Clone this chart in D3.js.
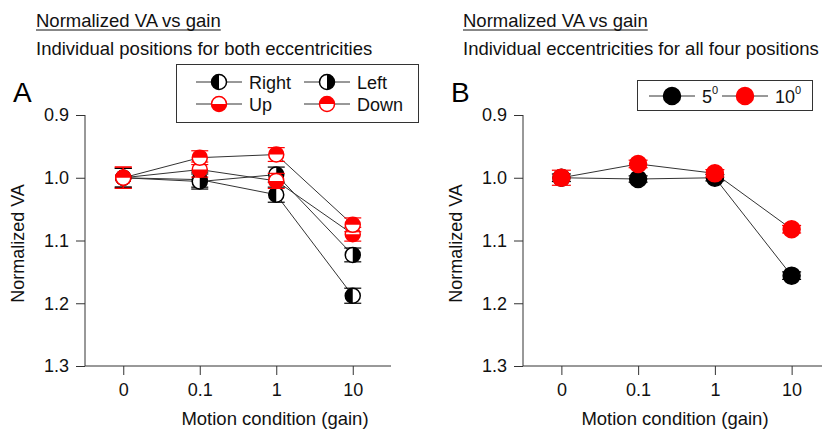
<!DOCTYPE html>
<html>
<head>
<meta charset="utf-8">
<script src="https://cdn.jsdelivr.net/npm/d3@7"></script>
<style>
  body { margin: 0; background: #fff; }
  svg { font-family: "Liberation Sans", Arial, Helvetica, sans-serif; }
</style>
</head>
<body>
<svg id="chart" width="822" height="430"></svg>
<script>
/* data */
const gains = ["0", "0.1", "1", "10"];
const yTicks = [0.9, 1.0, 1.1, 1.2, 1.3];

const rightVals = [1.0, 1.003, 1.027, 1.188];
const rightErr  = [0.015, 0.012, 0.012, 0.012];
const leftVals  = [1.0, 1.006, 0.995, 1.123];
const leftErr   = [0.015, 0.012, 0.012, 0.011];
const upVals    = [1.0, 0.987, 1.005, 1.09];
const upErr     = [0.017, 0.012, 0.012, 0.011];
const downVals  = [1.0, 0.968, 0.963, 1.075];
const downErr   = [0.017, 0.011, 0.011, 0.011];

const ecc5Vals  = [1.0, 1.002, 1.0, 1.156];
const ecc5Err   = [0.006, 0.005, 0.005, 0.006];
const ecc10Vals = [1.0, 0.978, 0.993, 1.082];
const ecc10Err  = [0.012, 0.006, 0.006, 0.006];

const svg = d3.select("#chart");
const axisColor = "#333";
const fontFam = '"Liberation Sans", Arial, Helvetica, sans-serif';

/* half-filled circle marker */
function marker(g, cx, cy, r, color, half) {
  g.append("circle")
    .attr("cx", cx).attr("cy", cy).attr("r", r)
    .attr("fill", half === "full" ? color : "#fff")
    .attr("stroke", color).attr("stroke-width", 1.5);
  if (half === "full") return;
  let p;
  if (half === "left") p = `M${cx},${cy - r} A${r},${r} 0 0,0 ${cx},${cy + r} Z`;
  if (half === "right") p = `M${cx},${cy - r} A${r},${r} 0 0,1 ${cx},${cy + r} Z`;
  if (half === "top") p = `M${cx - r},${cy} A${r},${r} 0 0,1 ${cx + r},${cy} Z`;
  if (half === "bottom") p = `M${cx - r},${cy} A${r},${r} 0 0,0 ${cx + r},${cy} Z`;
  g.append("path").attr("d", p).attr("fill", color);
}

function drawPanel(opts) {
  const { x0, x1, letter, title, subtitle, series, r, titleX, xLabelX } = opts;
  const top = 115, bottom = 366;
  const g = svg.append("g");

  const x = d3.scalePoint().domain(gains).range([x0, x1]).padding(0.5);
  const y = d3.scaleLinear().domain([0.9, 1.3]).range([top, bottom]);

  /* axes */
  const yAxis = g.append("g")
    .attr("transform", `translate(${x0},0)`)
    .call(d3.axisLeft(y).tickValues(yTicks).tickFormat(d3.format(".1f")).tickSize(9).tickPadding(7));
  const xAxis = g.append("g")
    .attr("transform", `translate(0,${bottom})`)
    .call(d3.axisBottom(x).tickSize(9).tickPadding(8));
  [yAxis, xAxis].forEach(a => {
    a.attr("font-family", fontFam).attr("font-size", 18);
    a.selectAll(".tick line").attr("stroke", axisColor);
    a.selectAll("text").attr("fill", "#111");
  });
  yAxis.select(".domain").attr("stroke", axisColor).attr("d", `M0,${top}V${bottom}`);
  xAxis.select(".domain").attr("stroke", axisColor).attr("d", `M${x0},0H${x1}`);

  const ym = (top + bottom) / 2 + 3;
  g.append("text").attr("x", x0 - 66).attr("y", ym)
    .attr("transform", `rotate(-90,${x0 - 66},${ym})`)
    .attr("text-anchor", "middle").attr("dominant-baseline", "middle")
    .style("font-size", "18px").attr("fill", "#111").text("Normalized VA");
  g.append("text").attr("x", xLabelX).attr("y", 425)
    .attr("text-anchor", "middle").style("font-size", "18.5px").attr("fill", "#111")
    .text("Motion condition (gain)");

  g.append("text").attr("x", x0 - 72).attr("y", 102)
    .style("font-size", "28px").attr("fill", "#000").text(letter);

  const t = g.append("text").attr("x", titleX).attr("y", 27)
    .style("font-size", "18.5px").attr("fill", "#111").text(title);
  const tw = t.node().getComputedTextLength();
  g.append("line").attr("x1", titleX).attr("x2", titleX + tw)
    .attr("y1", 30).attr("y2", 30).attr("stroke", "#111").attr("stroke-width", 1);
  g.append("text").attr("x", titleX).attr("y", 55)
    .style("font-size", "18.5px").attr("fill", "#111").text(subtitle);

  /* lines */
  const line = d3.line().x((d, i) => x(gains[i])).y(d => y(d));
  series.forEach(s => {
    g.append("path").datum(s.vals).attr("d", line)
      .attr("fill", "none").attr("stroke", "#333").attr("stroke-width", 1);
  });

  /* error bars + markers */
  series.forEach(s => {
    s.vals.forEach((v, i) => {
      const cx = x(gains[i]);
      const eb = g.append("g").attr("stroke", s.color).attr("stroke-width", 1.2);
      eb.append("line").attr("x1", cx).attr("x2", cx).attr("y1", y(v - s.err[i])).attr("y2", y(v + s.err[i]));
      [v - s.err[i], v + s.err[i]].forEach(e => {
        eb.append("line").attr("x1", cx - r - 1).attr("x2", cx + r + 1).attr("y1", y(e)).attr("y2", y(e));
      });
      marker(g, cx, y(v), r, s.color, s.half);
    });
  });
  return g;
}

drawPanel({
  x0: 85, x1: 391, letter: "A", titleX: 36, xLabelX: 275,
  title: "Normalized VA vs gain",
  subtitle: "Individual positions for both eccentricities",
  r: 7.5,
  series: [
    { vals: rightVals, err: rightErr, color: "#000", half: "left" },
    { vals: leftVals, err: leftErr, color: "#000", half: "right" },
    { vals: upVals, err: upErr, color: "#f00", half: "bottom" },
    { vals: downVals, err: downErr, color: "#f00", half: "top" }
  ]
});

drawPanel({
  x0: 523, x1: 830, letter: "B", titleX: 463, xLabelX: 675,
  title: "Normalized VA vs gain",
  subtitle: "Individual eccentricities for all four positions",
  r: 8.5,
  series: [
    { vals: ecc5Vals, err: ecc5Err, color: "#000", half: "full" },
    { vals: ecc10Vals, err: ecc10Err, color: "#f00", half: "full" }
  ]
});

/* legends */
function legendItem(g, lx, ly, color, half, label, r, sup) {
  g.append("line").attr("x1", lx).attr("x2", lx + 46).attr("y1", ly).attr("y2", ly)
    .attr("stroke", "#333").attr("stroke-width", 1);
  marker(g, lx + 23, ly, r, color, half);
  const t = g.append("text").attr("x", lx + 53).attr("y", ly + 6.5)
    .style("font-size", "18px").attr("fill", "#111").text(label);
  if (sup) t.append("tspan").attr("dy", -9).style("font-size", "11px").text(sup);
}

const legA = svg.append("g");
legA.append("rect").attr("x", 176.5).attr("y", 64.5).attr("width", 242).attr("height", 58)
  .attr("fill", "#fff").attr("stroke", "#333").attr("stroke-width", 1);
legendItem(legA, 196, 82, "#000", "left", "Right", 7.5);
legendItem(legA, 304, 82, "#000", "right", "Left", 7.5);
legendItem(legA, 196, 104, "#f00", "bottom", "Up", 7.5);
legendItem(legA, 304, 104, "#f00", "top", "Down", 7.5);

const legB = svg.append("g");
legB.append("rect").attr("x", 637.5).attr("y", 80.5).attr("width", 175).attr("height", 30)
  .attr("fill", "#fff").attr("stroke", "#333").attr("stroke-width", 1);
legendItem(legB, 649, 96, "#000", "full", "5", 8.5, "0");
legendItem(legB, 722, 96, "#f00", "full", "10", 8.5, "0");
</script>
</body>
</html>
